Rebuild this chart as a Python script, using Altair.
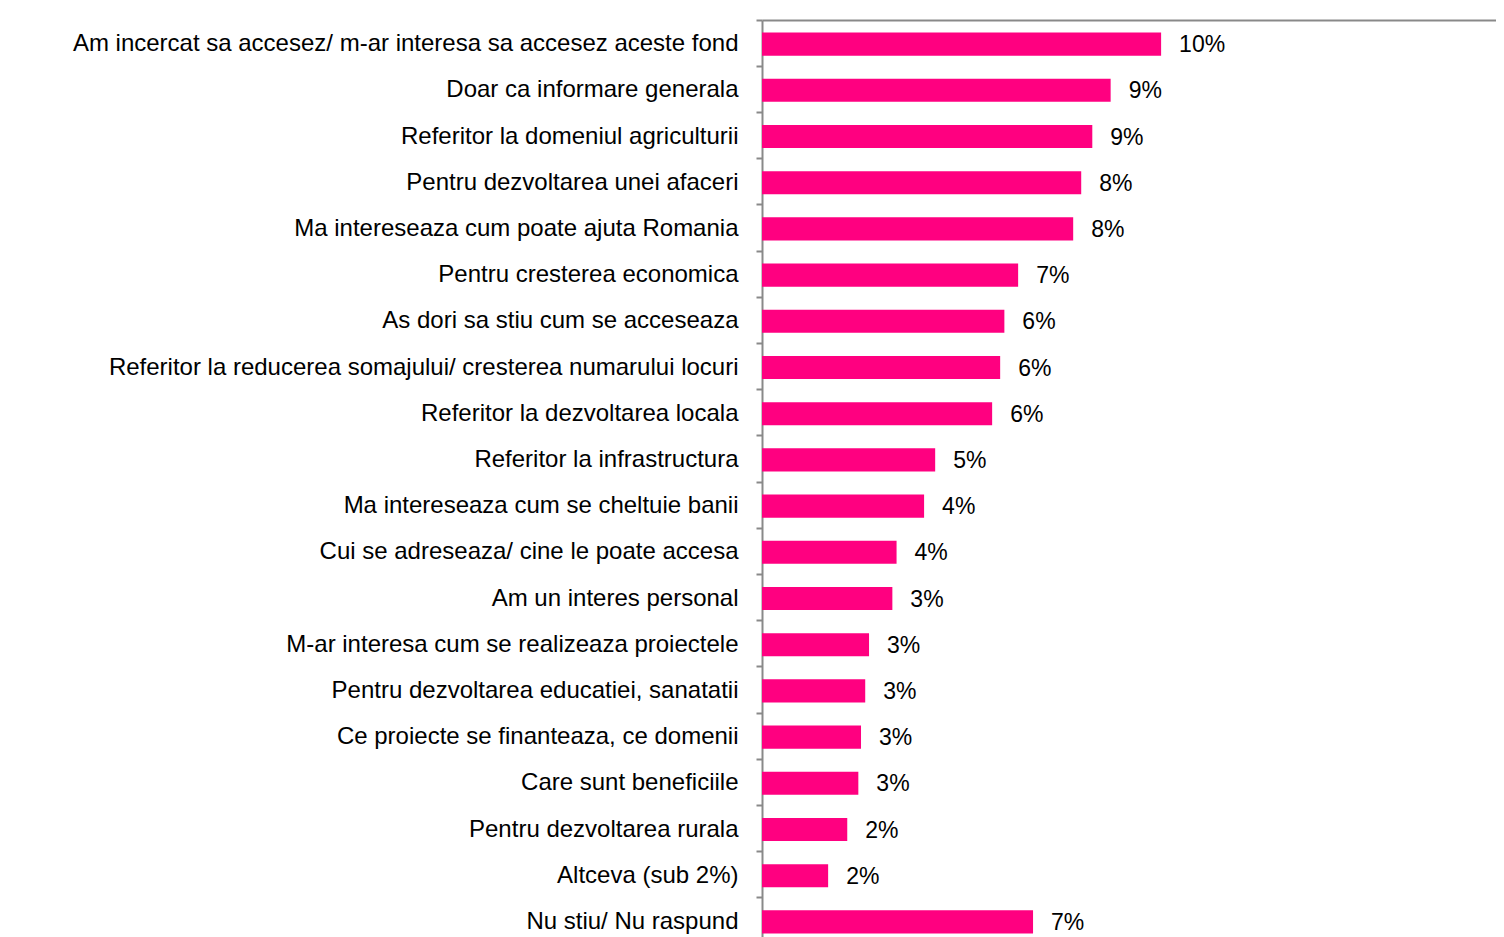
import altair as alt
import pandas as pd

categories = [
    "Am incercat sa accesez/ m-ar interesa sa accesez aceste fond",
    "Doar ca informare generala",
    "Referitor la domeniul agriculturii",
    "Pentru dezvoltarea unei afaceri",
    "Ma intereseaza  cum poate ajuta Romania",
    "Pentru cresterea economica",
    "As dori sa stiu cum se acceseaza",
    "Referitor la reducerea somajului/ cresterea numarului locuri",
    "Referitor la dezvoltarea locala",
    "Referitor la infrastructura",
    "Ma intereseaza  cum se cheltuie banii",
    "Cui se adreseaza/  cine le poate accesa",
    "Am un interes  personal",
    "M-ar interesa cum se realizeaza  proiectele",
    "Pentru dezvoltarea educatiei, sanatatii",
    "Ce proiecte se finanteaza,  ce domenii",
    "Care sunt beneficiile",
    "Pentru dezvoltarea rurala",
    "Altceva (sub 2%)",
    "Nu stiu/ Nu raspund",
]
values_pct = [10.44, 9.12, 8.64, 8.35, 8.14, 6.70, 6.34, 6.23, 6.02, 4.53,
              4.24, 3.52, 3.41, 2.80, 2.70, 2.59, 2.52, 2.23, 1.73, 7.09]

df = pd.DataFrame({"cat": categories, "val": [v / 100 for v in values_pct]})

GRAY = "#898989"
PINK = "#FF0080"
FONT = "Liberation Sans"
XMAX = 0.192

x_enc = alt.X("val:Q", scale=alt.Scale(domain=[0, XMAX]),
              axis=alt.Axis(orient="top", labels=False, ticks=False, grid=False,
                            domainColor=GRAY, domainWidth=2, title=None))
y_scale = alt.Scale(paddingInner=0, paddingOuter=0)

bars = alt.Chart(df).mark_bar(color=PINK, height=alt.RelativeBandSize(0.5),
                              yOffset=1).encode(
    x=x_enc,
    y=alt.Y("cat:N", sort=categories, scale=y_scale, title=None,
            axis=alt.Axis(orient="left", ticks=False, domain=True, domainColor=GRAY,
                          domainWidth=2, labelFont=FONT, labelFontSize=24,
                          labelColor="black", labelPadding=24, labelLimit=2000,
                          labelOffset=1, title=None)),
)

text = alt.Chart(df).mark_text(align="left", baseline="middle", dx=18, dy=2, font=FONT,
                               fontSize=23, color="black").encode(
    x=x_enc,
    y=alt.Y("cat:N", sort=categories, scale=y_scale, title=None,
            axis=alt.Axis(orient="left", ticks=True, tickSize=6, tickWidth=2,
                          tickColor=GRAY, bandPosition=0, labels=False,
                          domain=False, grid=False, title=None)),
    text=alt.Text("val:Q", format=".0%"),
)

chart = alt.layer(bars, text).resolve_axis(y="independent").properties(
    width=734, height=924,
    autosize=alt.AutoSizeParams(type="none"),
    padding={"left": 754, "top": 12, "right": 0, "bottom": 0},
).configure_view(stroke=None)

chart.save("out.html", embed_options={"renderer": "svg", "actions": False})
